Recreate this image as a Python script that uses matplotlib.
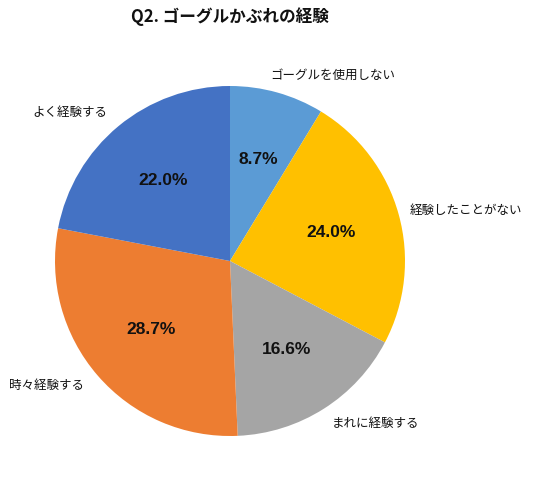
import matplotlib
matplotlib.use('Agg')
import matplotlib.pyplot as plt

plt.rcParams['font.family'] = ['Noto Sans CJK JP', 'DejaVu Sans']

labels = ['ゴーグルを使用しない', '経験したことがない', 'まれに経験する', '時々経験する', 'よく経験する']
shares = [8.7, 24.0, 16.6, 28.7, 22.0]
colors = ['#5B9BD5', '#FFC000', '#A5A5A5', '#ED7D31', '#4472C4']

# label positions in units of the pie radius
label_pos = [(0.589, 1.063), (1.349, 0.286), (0.829, -0.931), (-1.046, -0.714), (-0.914, 0.851)]

fig = plt.figure(figsize=(5.36, 4.88), dpi=100)
ax = fig.add_axes([55 / 536, 52 / 488, 350 / 536, 350 / 488])

wedges, texts, autotexts = ax.pie(
    shares, colors=colors, startangle=90, counterclock=False,
    autopct='%.1f%%', pctdistance=0.6, radius=1.0,
    textprops={'fontsize': 12.5, 'fontweight': 'bold', 'color': '#111111'}
)
for t in autotexts:
    t.set_family(['Liberation Sans', 'DejaVu Sans'])

for lab, (x, y) in zip(labels, label_pos):
    ax.text(x, y, lab, ha='center', va='center', fontsize=9, color='#111111')

ax.set_xlim(-1, 1)
ax.set_ylim(-1, 1)
ax.set_aspect('equal')

fig.text(230 / 536, 1 - 17 / 488, 'Q2. ゴーグルかぶれの経験', ha='center', va='center',
         fontsize=12, fontweight='bold', color='#111111')

fig.savefig('out.png', dpi=100)
